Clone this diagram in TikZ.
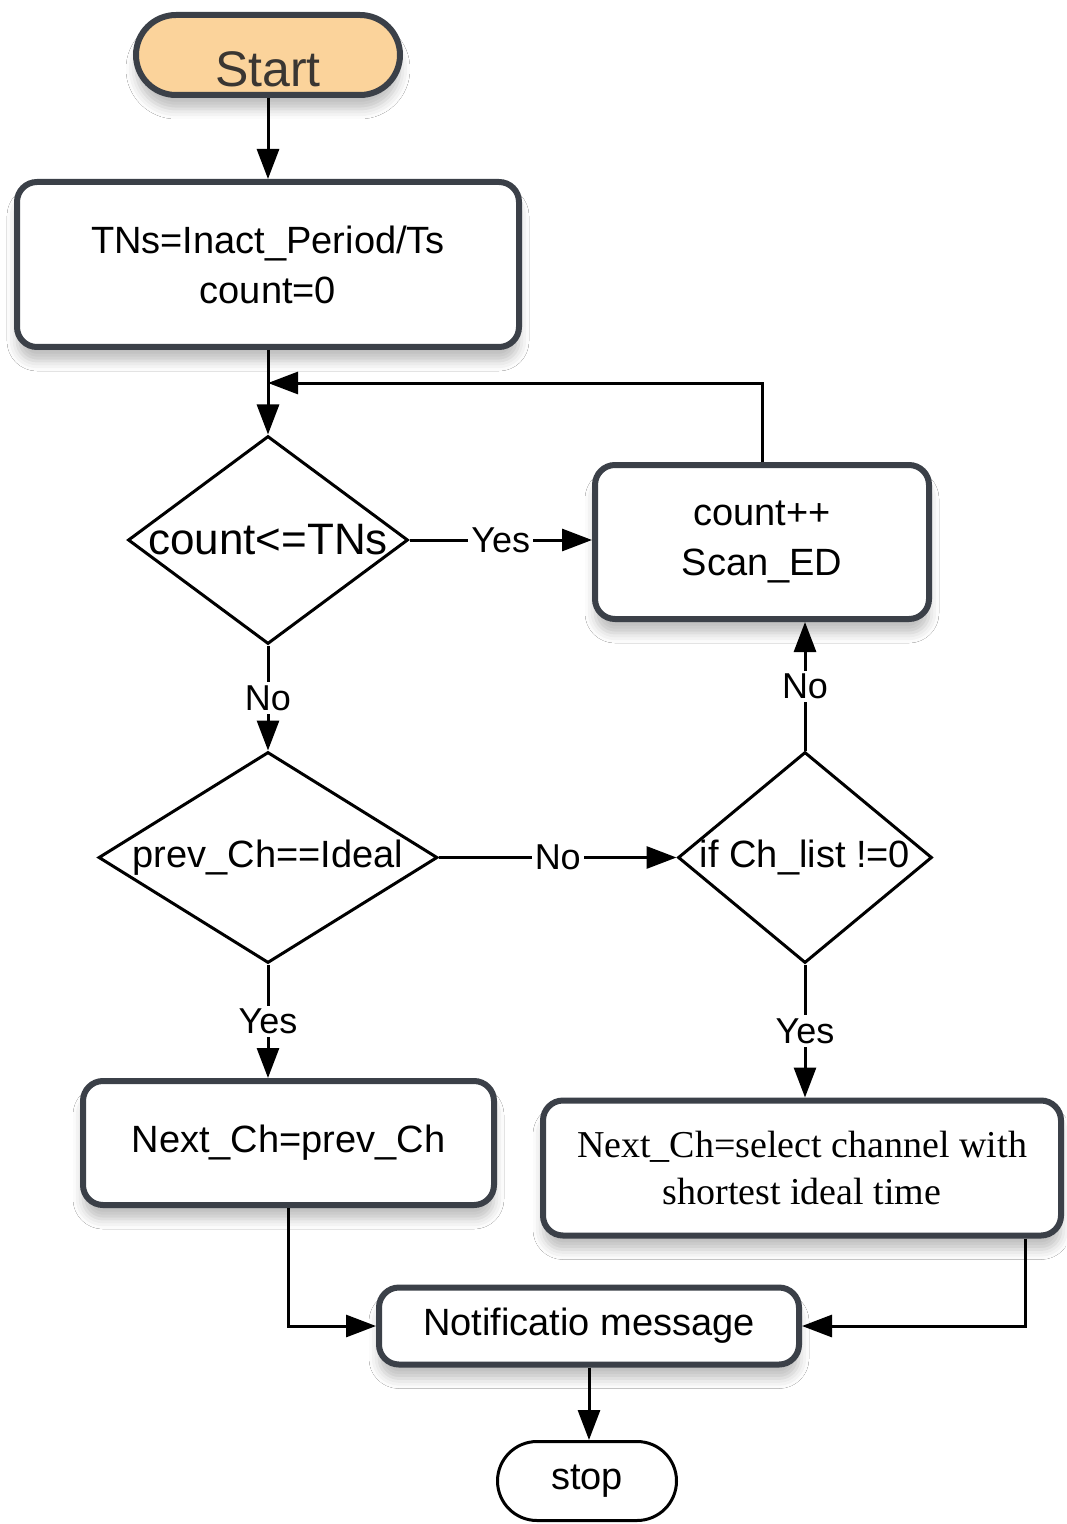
\documentclass[tikz,border=0pt]{standalone}
\usepackage{fontspec}
\setmainfont{Liberation Sans}
\newfontfamily\bookserif{Liberation Serif}
\usetikzlibrary{shapes.geometric,shapes.misc,arrows.meta,shadows.blur}
\definecolor{edgegray}{RGB}{59,64,72}
\definecolor{startfill}{RGB}{251,211,155}
\definecolor{starttext}{RGB}{58,54,50}

\begin{document}
\begin{tikzpicture}[x=0.5pt,y=-0.5pt,
  softshadow/.style={blur shadow={shadow xshift=0pt,shadow yshift=-7pt,shadow opacity=25,shadow blur radius=5pt}},
  procbox/.style={draw=edgegray, line width=3pt, rounded corners=10pt, fill=white,
    align=center, inner sep=0pt, font=\fontsize{19}{25}\selectfont, softshadow},
  decision/.style={diamond, draw=black, line width=1.5pt, fill=white, inner sep=0pt,
    font=\fontsize{19}{23}\selectfont},
  terminal/.style={rounded rectangle, inner sep=0pt},
  flow/.style={draw=black, line width=1.5pt, -{Triangle[length=15pt,width=11pt]}},
  lbl/.style={fill=white, inner sep=1.5pt, font=\fontsize{18}{20}\selectfont}
]
% page frame
\useasboundingbox[fill=white] (0,0) rectangle (1066,1524);

% terminals
\node[terminal, draw=edgegray, line width=3pt, fill=startfill, text=starttext,
      minimum width=132pt, minimum height=40pt, font=\fontsize{25}{25}\selectfont,
      text height=34pt, text depth=2pt, softshadow] (start) at (268,55) {Start};
\node[terminal, draw=black, line width=1.5pt, minimum width=89.5pt, minimum height=39.5pt,
      font=\fontsize{19}{23}\selectfont] (stop) at (587,1481) {stop};

% process boxes
\node[procbox, minimum width=251pt, minimum height=82.5pt] (init) at (268,264.5)
  {TNs=Inact\_Period/Ts\\count=0};
\node[procbox, minimum width=167pt, minimum height=77pt] (scan) at (762,542)
  {count++\\Scan\_ED};
\node[procbox, minimum width=205.5pt, minimum height=62pt] (keep) at (288.5,1143)
  {Next\_Ch=prev\_Ch};
\node[procbox, minimum width=259pt, minimum height=67.5pt, font=\bookserif\fontsize{19}{23.5}\selectfont]
  (select) at (802,1168) {Next\_Ch=select channel with\\shortest ideal time};
\node[procbox, minimum width=210pt, minimum height=38.5pt] (notify) at (589,1326)
  {Notificatio message};

% decisions
\node[decision, minimum width=140pt, minimum height=104pt, font=\fontsize{22}{24}\selectfont]
  (cmp) at (268,540) {\makebox[0pt]{count<=TNs}};
\node[decision, minimum width=169.5pt, minimum height=105.5pt] (prev) at (268,857.5)
  {\makebox[0pt]{prev\_Ch==Ideal}};
\node[decision, minimum width=127pt, minimum height=105.5pt] (list) at (805,857.5)
  {\makebox[0pt]{if Ch\_list !=0}};

% connectors
\coordinate (loopin) at (268,383);
\coordinate (selout) at ([xshift=-19.5pt]select.south east);

\draw[flow] (start) -- (init);
\draw[flow] (init) -- (cmp);
\draw[flow] (scan.north) -- (scan.north |- loopin) -- (loopin);
\draw[flow] (cmp.east) -- node[lbl]{Yes} (cmp.east -| scan.west);
\draw[flow] (cmp.south) -- node[lbl]{No} (prev.north);
\draw[flow] (prev.east) -- node[lbl]{No} (list.west);
\draw[flow] (list.north) -- node[lbl]{No} (list.north |- scan.south);
\draw[flow] (prev.south) -- node[lbl]{Yes} (prev.south |- keep.north);
\draw[flow] (list.south) -- node[lbl]{Yes} (list.south |- select.north);
\draw[flow] (keep.south) |- (notify.west);
\draw[flow] (selout) |- (notify.east);
\draw[flow] (notify.south) -- (notify.south |- stop.north);
\end{tikzpicture}
\end{document}
